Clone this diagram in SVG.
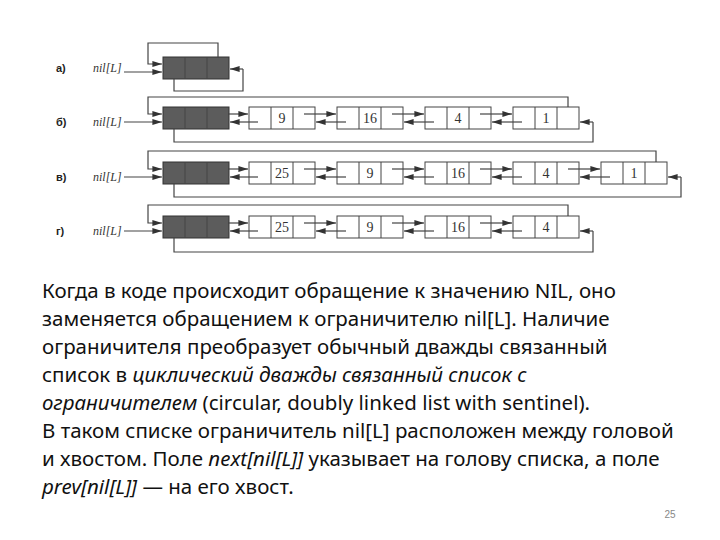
<svg xmlns="http://www.w3.org/2000/svg" width="720" height="540" viewBox="0 0 720 540">
<defs>
<marker id="ar" viewBox="0 0 10 6" refX="10" refY="3" markerWidth="8" markerHeight="5" orient="auto"><path d="M0,0L10,3L0,6z" fill="#333"/></marker>
<style>
.n{fill:#fff;stroke:#444;stroke-width:1}
.s{fill:#5c5c5c;stroke:#333;stroke-width:1}
.c{stroke:#444;stroke-width:1}
.l{fill:none;stroke:#444;stroke-width:1.2}
.a{fill:none;stroke:#444;stroke-width:1.2;marker-end:url(#ar)}
.v{font-family:"Liberation Serif",serif;font-size:14px;fill:#333;text-anchor:middle}
.lb{font-family:"Liberation Serif",serif;font-size:12px;font-style:italic;fill:#333}
.r{font-family:"Liberation Sans",sans-serif;font-size:11px;font-weight:bold;fill:#222}
.t{font-family:"Noto Sans",sans-serif;font-size:20.5px;fill:#111}
</style>
</defs>
<rect width="720" height="540" fill="#fff"/>
<g id="row-a">
<text class="r" x="56" y="72">а)</text><text class="lb" x="93" y="72">nil[L]</text>
<rect class="s" x="163" y="57" width="66" height="22"/><line class="c" x1="185" y1="57" x2="185" y2="79"/><line class="c" x1="207" y1="57" x2="207" y2="79"/>
</g>
<g id="row-b">
<text class="r" x="56" y="126">б)</text><text class="lb" x="93" y="126">nil[L]</text>
<rect class="s" x="163" y="107" width="66" height="22"/><line class="c" x1="185" y1="107" x2="185" y2="129"/><line class="c" x1="207" y1="107" x2="207" y2="129"/>
<rect class="n" x="249" y="107" width="66" height="22"/><line class="c" x1="271" y1="107" x2="271" y2="129"/><line class="c" x1="293" y1="107" x2="293" y2="129"/><text class="v" x="282" y="123">9</text>
<rect class="n" x="337" y="107" width="66" height="22"/><line class="c" x1="359" y1="107" x2="359" y2="129"/><line class="c" x1="381" y1="107" x2="381" y2="129"/><text class="v" x="370" y="123">16</text>
<rect class="n" x="425" y="107" width="66" height="22"/><line class="c" x1="447" y1="107" x2="447" y2="129"/><line class="c" x1="469" y1="107" x2="469" y2="129"/><text class="v" x="458" y="123">4</text>
<rect class="n" x="513" y="107" width="66" height="22"/><line class="c" x1="535" y1="107" x2="535" y2="129"/><line class="c" x1="557" y1="107" x2="557" y2="129"/><text class="v" x="546" y="123">1</text>
</g>
<g id="row-c">
<text class="r" x="56" y="181">в)</text><text class="lb" x="93" y="181">nil[L]</text>
<rect class="s" x="163" y="162" width="66" height="22"/><line class="c" x1="185" y1="162" x2="185" y2="184"/><line class="c" x1="207" y1="162" x2="207" y2="184"/>
<rect class="n" x="249" y="162" width="66" height="22"/><line class="c" x1="271" y1="162" x2="271" y2="184"/><line class="c" x1="293" y1="162" x2="293" y2="184"/><text class="v" x="282" y="178">25</text>
<rect class="n" x="337" y="162" width="66" height="22"/><line class="c" x1="359" y1="162" x2="359" y2="184"/><line class="c" x1="381" y1="162" x2="381" y2="184"/><text class="v" x="370" y="178">9</text>
<rect class="n" x="425" y="162" width="66" height="22"/><line class="c" x1="447" y1="162" x2="447" y2="184"/><line class="c" x1="469" y1="162" x2="469" y2="184"/><text class="v" x="458" y="178">16</text>
<rect class="n" x="513" y="162" width="66" height="22"/><line class="c" x1="535" y1="162" x2="535" y2="184"/><line class="c" x1="557" y1="162" x2="557" y2="184"/><text class="v" x="546" y="178">4</text>
<rect class="n" x="601" y="162" width="66" height="22"/><line class="c" x1="623" y1="162" x2="623" y2="184"/><line class="c" x1="645" y1="162" x2="645" y2="184"/><text class="v" x="634" y="178">1</text>
</g>
<g id="row-d">
<text class="r" x="56" y="235">г)</text><text class="lb" x="93" y="235">nil[L]</text>
<rect class="s" x="163" y="216" width="66" height="22"/><line class="c" x1="185" y1="216" x2="185" y2="238"/><line class="c" x1="207" y1="216" x2="207" y2="238"/>
<rect class="n" x="249" y="216" width="66" height="22"/><line class="c" x1="271" y1="216" x2="271" y2="238"/><line class="c" x1="293" y1="216" x2="293" y2="238"/><text class="v" x="282" y="232">25</text>
<rect class="n" x="337" y="216" width="66" height="22"/><line class="c" x1="359" y1="216" x2="359" y2="238"/><line class="c" x1="381" y1="216" x2="381" y2="238"/><text class="v" x="370" y="232">9</text>
<rect class="n" x="425" y="216" width="66" height="22"/><line class="c" x1="447" y1="216" x2="447" y2="238"/><line class="c" x1="469" y1="216" x2="469" y2="238"/><text class="v" x="458" y="232">16</text>
<rect class="n" x="513" y="216" width="66" height="22"/><line class="c" x1="535" y1="216" x2="535" y2="238"/><line class="c" x1="557" y1="216" x2="557" y2="238"/><text class="v" x="546" y="232">4</text>
</g>
<g id="connectors">
<path class="a" d="M124,72H162"/>
<path class="a" d="M218,57V43H148V64H162"/>
<path class="l" d="M174,79V91H243V69"/><path class="a" d="M243,69H230"/>
<path class="a" d="M124,122H162"/>
<path class="a" d="M568,107V97H148V114H162"/>
<path class="l" d="M174,129V142H593V122"/><path class="a" d="M593,122H580"/>
<path class="a" d="M228,114H248"/><path class="a" d="M304,114H336"/><path class="a" d="M392,114H424"/><path class="a" d="M480,114H512"/>
<path class="a" d="M258,122H230"/><path class="a" d="M346,122H316"/><path class="a" d="M434,122H404"/><path class="a" d="M522,122H492"/>
<path class="a" d="M124,177H162"/>
<path class="a" d="M656,162V151H148V169H162"/>
<path class="l" d="M174,184V197H681V177"/><path class="a" d="M681,177H668"/>
<path class="a" d="M228,169H248"/><path class="a" d="M304,169H336"/><path class="a" d="M392,169H424"/><path class="a" d="M480,169H512"/><path class="a" d="M568,169H600"/>
<path class="a" d="M258,177H230"/><path class="a" d="M346,177H316"/><path class="a" d="M434,177H404"/><path class="a" d="M522,177H492"/><path class="a" d="M610,177H580"/>
<path class="a" d="M124,231H162"/>
<path class="a" d="M568,216V205H148V223H162"/>
<path class="l" d="M174,238V252H593V231"/><path class="a" d="M593,231H580"/>
<path class="a" d="M228,223H248"/><path class="a" d="M304,223H336"/><path class="a" d="M392,223H424"/><path class="a" d="M480,223H512"/>
<path class="a" d="M258,231H230"/><path class="a" d="M346,231H316"/><path class="a" d="M434,231H404"/><path class="a" d="M522,231H492"/>
</g>
<g id="text">
<text class="t" x="42" y="298">Когда в коде происходит обращение к значению NIL, оно</text>
<text class="t" x="42" y="326">заменяется обращением к ограничителю nil[L]. Наличие</text>
<text class="t" x="42" y="354">ограничителя преобразует обычный дважды связанный</text>
<text class="t" x="42" y="382">список в <tspan font-style="italic">циклический дважды связанный список с</tspan></text>
<text class="t" x="42" y="410"><tspan font-style="italic">ограничителем</tspan> (circular, doubly linked list with sentinel).</text>
<text class="t" x="42" y="438">В таком списке ограничитель nil[L] расположен между головой</text>
<text class="t" x="42" y="466">и хвостом. Поле <tspan font-style="italic">next[nil[L]]</tspan> указывает на голову списка, а поле</text>
<text class="t" x="42" y="494"><tspan font-style="italic">prev[nil[L]]</tspan> — на его хвост.</text>
<text x="670" y="518" font-family="Liberation Sans,sans-serif" font-size="10" fill="#888" text-anchor="middle">25</text>
</g>
</svg>
